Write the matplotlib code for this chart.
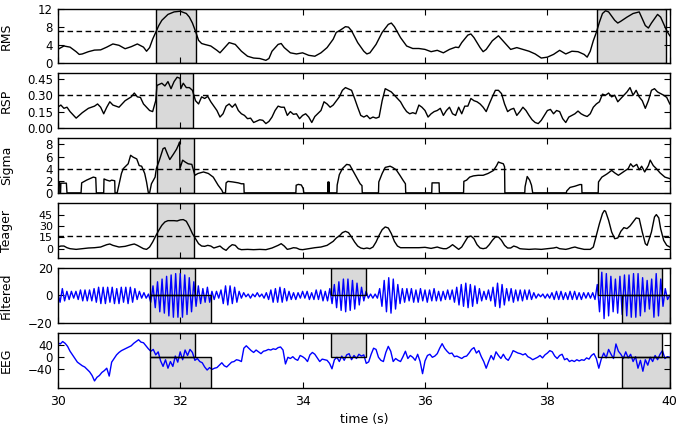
import numpy as np
import matplotlib
matplotlib.use('Agg')
import matplotlib.pyplot as plt
from matplotlib.patches import Rectangle

plt.rcParams['font.family'] = ['DejaVu Sans']
plt.rcParams['font.size'] = 9

# ---- RMS ----
rms_t = [30.0, 30.1, 30.2, 30.3, 30.35, 30.4, 30.5, 30.6, 30.7, 30.8,
         30.9, 31.0, 31.1, 31.2, 31.3, 31.4, 31.45, 31.5, 31.55, 31.6,
         31.65, 31.7, 31.8, 31.9, 32.0, 32.1, 32.15, 32.2, 32.25, 32.3,
         32.35, 32.4, 32.5, 32.6, 32.65, 32.7, 32.8, 32.9, 33.0, 33.1,
         33.2, 33.3, 33.4, 33.45, 33.5, 33.6, 33.65, 33.7, 33.8, 33.9,
         34.0, 34.1, 34.2, 34.3, 34.4, 34.5, 34.55,
         34.6, 34.7, 34.75, 34.8, 34.9, 35.0, 35.05, 35.1, 35.2, 35.3,
         35.4, 35.45, 35.5, 35.6, 35.7, 35.8, 35.9, 36.0, 36.1, 36.2,
         36.3, 36.4, 36.5, 36.55, 36.6, 36.7, 36.75, 36.8, 36.9, 36.95,
         37.0, 37.1, 37.2, 37.3, 37.4, 37.5, 37.6, 37.7, 37.8, 37.9,
         38.0, 38.1, 38.2, 38.3, 38.4, 38.5, 38.6, 38.65, 38.7, 38.75,
         38.8, 38.85, 38.9, 38.95, 39.0, 39.1, 39.15, 39.2, 39.3, 39.4,
         39.5, 39.6, 39.65, 39.7, 39.8, 39.85, 39.9, 39.95, 40.0]
rms_v = [3.0, 3.75, 3.5, 2.5, 1.9, 2.0, 2.5, 2.85, 2.9, 3.5,
         4.2, 3.9, 3.15, 3.6, 4.2, 3.5, 2.6, 3.4, 5.25, 6.75,
         8.25, 9.4, 10.7, 11.25, 11.4, 10.9, 10.1, 8.8, 7.0, 5.0,
         4.3, 4.1, 3.75, 2.8, 2.25, 3.0, 4.5, 4.1, 2.6, 1.5,
         1.1, 1.0, 0.6, 1.0, 2.6, 4.1, 4.3, 3.4, 2.25, 2.0,
         2.25, 1.7, 1.5, 2.25, 3.4, 5.25, 6.75,
         7.1, 8.0, 7.9, 7.1, 4.5, 2.6, 2.0, 2.25, 4.1, 6.75,
         8.5, 8.8, 8.0, 5.6, 3.75, 3.2, 3.2, 3.0, 2.5, 2.8,
         2.25, 3.0, 3.5, 3.4, 4.5, 6.15, 6.4, 5.6, 3.4, 2.5,
         3.0, 4.9, 6.0, 4.5, 3.0, 3.4, 3.0, 2.6, 2.0, 1.1,
         1.3, 1.9, 2.8, 2.0, 2.6, 2.5, 1.9, 1.3, 2.6, 4.9,
         6.75, 9.0, 10.9, 11.5, 11.25, 9.4, 8.8, 9.2, 10.1, 10.9,
         11.25, 8.25, 7.7, 8.8, 10.7, 10.1, 8.6, 7.1, 6.0]

# ---- RSP ----
rsp_t = [30.0, 30.05, 30.1, 30.15, 30.2, 30.3, 30.4, 30.5, 30.6, 30.65,
         30.7, 30.75, 30.8, 30.85, 30.9, 31.0, 31.05, 31.1, 31.2, 31.25,
         31.3, 31.35, 31.4, 31.5, 31.55, 31.6, 31.62, 31.7, 31.75, 31.8,
         31.85, 31.9, 31.95, 32.0, 32.01, 32.05, 32.1, 32.15, 32.2, 32.25,
         32.3, 32.35, 32.4, 32.45, 32.5, 32.6, 32.65, 32.7, 32.75, 32.8,
         32.85, 32.9, 32.95, 33.0, 33.05, 33.1, 33.15, 33.2, 33.3, 33.35,
         33.4, 33.45, 33.5, 33.55, 33.6, 33.65, 33.7, 33.75, 33.8, 33.85,
         33.9, 33.95, 34.0, 34.05, 34.1, 34.15, 34.2, 34.3, 34.35, 34.4,
         34.45, 34.5,
         34.6, 34.65, 34.7, 34.8, 34.85, 34.9, 34.95, 35.0, 35.05, 35.1,
         35.15, 35.2, 35.25, 35.3, 35.35, 35.4, 35.45, 35.5, 35.6, 35.65,
         35.7, 35.75, 35.8, 35.85, 35.9, 35.95, 36.0, 36.05, 36.1, 36.15,
         36.2, 36.25, 36.3, 36.35, 36.4, 36.45, 36.5, 36.55, 36.6, 36.65,
         36.7, 36.75, 36.8, 36.85, 36.9, 36.95, 37.0, 37.05, 37.1, 37.15,
         37.2, 37.25, 37.3, 37.35, 37.4, 37.45, 37.5, 37.55, 37.6, 37.65,
         37.7, 37.75, 37.8, 37.85, 37.9, 37.95, 38.0, 38.05, 38.1, 38.15,
         38.2, 38.25, 38.3, 38.35, 38.4, 38.45, 38.5, 38.55, 38.6, 38.65,
         38.7, 38.75, 38.8, 38.85, 38.9, 38.95, 39.0, 39.05, 39.1, 39.15,
         39.2, 39.25, 39.3, 39.35, 39.4, 39.45, 39.5, 39.55, 39.6, 39.65,
         39.7, 39.75, 39.8, 39.85, 39.9, 39.95, 40.0]
rsp_v = [0.19, 0.21, 0.18, 0.19, 0.15, 0.09, 0.14, 0.18, 0.20, 0.22,
         0.19, 0.13, 0.19, 0.24, 0.21, 0.19, 0.22, 0.25, 0.285, 0.32,
         0.285, 0.28, 0.22, 0.16, 0.15, 0.25, 0.39, 0.41, 0.385, 0.425,
         0.36, 0.425, 0.465, 0.455, 0.36, 0.41, 0.37, 0.37, 0.345, 0.25,
         0.22, 0.285, 0.27, 0.29, 0.24, 0.16, 0.10, 0.13, 0.20, 0.22,
         0.19, 0.22, 0.16, 0.13, 0.115, 0.085, 0.09, 0.05, 0.075, 0.07,
         0.04, 0.06, 0.10, 0.16, 0.20, 0.19, 0.19, 0.115, 0.15, 0.125,
         0.13, 0.085, 0.115, 0.13, 0.10, 0.05, 0.105, 0.16, 0.24, 0.22,
         0.19, 0.21,
         0.285, 0.345, 0.37, 0.345, 0.27, 0.19, 0.115, 0.10, 0.115, 0.085,
         0.10, 0.09, 0.10, 0.25, 0.36, 0.345, 0.33, 0.30, 0.24, 0.19,
         0.15, 0.13, 0.14, 0.13, 0.21, 0.19, 0.16, 0.10, 0.13, 0.15,
         0.16, 0.18, 0.115, 0.16, 0.19, 0.13, 0.115, 0.19, 0.13, 0.20,
         0.20, 0.27, 0.25, 0.24, 0.22, 0.19, 0.15, 0.22, 0.285, 0.345,
         0.345, 0.315, 0.22, 0.15, 0.17, 0.18, 0.115, 0.15, 0.19, 0.16,
         0.115, 0.075, 0.05, 0.04, 0.07, 0.115, 0.16, 0.17, 0.13, 0.16,
         0.15, 0.085, 0.05, 0.10, 0.115, 0.13, 0.155, 0.13, 0.115, 0.105,
         0.13, 0.19, 0.22, 0.24, 0.31, 0.30, 0.32, 0.285, 0.30, 0.24,
         0.27, 0.30, 0.33, 0.37, 0.30, 0.345, 0.285, 0.25, 0.18, 0.25,
         0.345, 0.36, 0.33, 0.315, 0.30, 0.28, 0.22]

# ---- Sigma (zero where undefined) ----
sig_t = [30.0, 30.03, 30.035, 30.045, 30.05, 30.14, 30.15,
         30.38, 30.39, 30.47, 30.58, 30.62, 30.63,
         30.75, 30.755, 30.8, 30.85, 30.88, 30.93, 30.935,
         30.97, 31.04, 31.07, 31.15, 31.19, 31.23, 31.29, 31.33, 31.37, 31.42,
         31.45, 31.48,
         31.5, 31.53, 31.59, 31.61, 31.66, 31.72, 31.75, 31.80, 31.83, 31.89,
         31.94, 31.98, 31.99, 31.995, 32.04, 32.08, 32.13, 32.19, 32.21, 32.24,
         32.29, 32.38, 32.46, 32.54, 32.62, 32.68, 32.70,
         32.74, 32.75, 32.78, 32.86, 32.95, 33.0, 33.04, 33.045,
         33.89, 33.895, 33.93, 33.98, 34.01, 34.02,
         34.41, 34.415, 34.42, 34.425, 34.43, 34.435,
         34.56, 34.565, 34.6, 34.65, 34.72, 34.77, 34.82, 34.88, 34.94, 34.97,
         34.975,
         35.24, 35.245, 35.3, 35.35, 35.43, 35.47, 35.53, 35.59, 35.64, 35.68,
         35.685,
         36.11, 36.115, 36.23, 36.235,
         36.63, 36.635, 36.68, 36.73, 36.79, 36.87, 36.95, 37.03, 37.12, 37.17,
         37.2, 37.22, 37.28, 37.30, 37.305,
         37.63, 37.635, 37.67, 37.71, 37.74, 37.76,
         38.31, 38.315, 38.37, 38.45, 38.53, 38.56, 38.565,
         38.83, 38.835, 38.89, 38.97, 39.05, 39.1, 39.16, 39.24, 39.32, 39.36,
         39.40, 39.46, 39.5, 39.54, 39.59, 39.65, 39.68, 39.73, 39.78, 39.84,
         39.92, 40.0]
sig_v = [1.7, 1.7, 0, 0, 1.6, 1.6, 0,
         0, 1.65, 2.1, 2.6, 2.5, 0,
         0, 2.3, 2.1, 1.95, 2.1, 2.0, 0,
         0, 3.2, 4.0, 4.8, 6.2, 5.9, 5.6, 4.5, 4.4, 3.2,
         1.8, 0,
         0, 1.5, 2.6, 4.0, 5.4, 7.3, 7.45, 6.2, 5.5, 6.4,
         7.2, 8.1, 8.4, 4.0, 5.4, 5.1, 4.8, 4.7, 4.0, 2.9,
         3.2, 3.45, 3.2, 2.6, 1.26, 0.45, 0,
         0, 1.65, 1.9, 1.8, 1.65, 1.5, 1.5, 0,
         0, 1.26, 1.4, 1.3, 0.7, 0,
         0, 1.8, 0, 0, 1.8, 0,
         0, 1.3, 3.0, 4.0, 4.7, 4.6, 3.7, 2.6, 1.5, 1.2,
         0,
         0, 1.8, 3.2, 4.2, 4.4, 4.2, 3.8, 2.9, 2.1, 1.5,
         0,
         0, 1.65, 1.65, 0,
         0, 1.9, 2.1, 2.6, 2.8, 2.9, 2.9, 3.2, 3.7, 4.5,
         5.1, 5.0, 4.8, 4.3, 0,
         0, 1.0, 2.7, 2.1, 1.26, 0,
         0, 0.3, 0.9, 1.1, 1.37, 1.37, 0,
         0, 1.8, 2.6, 3.1, 3.7, 3.3, 2.9, 3.45, 4.0, 4.8,
         4.3, 4.7, 3.8, 4.4, 3.45, 4.5, 5.4, 4.5, 4.0, 3.3,
         2.6, 2.35]

# ---- Teager ----
teo_t = [30.0, 30.05, 30.1, 30.15, 30.2, 30.3, 30.4, 30.5, 30.6, 30.7,
         30.8, 30.85, 30.9, 31.0, 31.1, 31.2, 31.25, 31.3, 31.4, 31.45,
         31.5, 31.55, 31.6, 31.65, 31.7, 31.75, 31.8, 31.9, 31.95, 32.0,
         32.05, 32.1, 32.15, 32.2, 32.25, 32.3, 32.35, 32.4, 32.45, 32.5,
         32.55, 32.6, 32.65, 32.7, 32.75, 32.8, 32.85, 32.9, 32.95, 33.0,
         33.1, 33.2, 33.3, 33.4, 33.5, 33.6, 33.65, 33.7, 33.75, 33.8,
         33.85, 33.9, 33.95, 34.0, 34.1, 34.2, 34.3, 34.4, 34.5, 34.55,
         34.61, 34.65, 34.7, 34.75, 34.8, 34.85, 34.9, 34.95, 35.0, 35.05,
         35.1, 35.15, 35.2, 35.25, 35.3, 35.35, 35.4, 35.45, 35.5, 35.55,
         35.6, 35.7, 35.8, 35.9, 36.0, 36.1, 36.2, 36.25, 36.3, 36.35,
         36.4, 36.45, 36.5, 36.55, 36.6, 36.65, 36.7, 36.75, 36.8, 36.85,
         36.9, 36.95, 37.0, 37.05, 37.1, 37.15, 37.2, 37.25, 37.3, 37.35,
         37.4, 37.45, 37.5, 37.55, 37.6, 37.7, 37.8, 37.9, 38.0, 38.1,
         38.15, 38.2, 38.3, 38.35, 38.4, 38.45, 38.5, 38.6, 38.7, 38.75,
         38.8, 38.85, 38.9, 38.93, 38.95, 39.0, 39.05, 39.1, 39.15, 39.2,
         39.25, 39.3, 39.35, 39.4, 39.45, 39.5, 39.55, 39.6, 39.63, 39.7,
         39.75, 39.78, 39.82, 39.85, 39.9, 39.95, 40.0]
teo_v = [2.2, 3.5, 3.5, 1.3, 0, -0.9, 0, 0.9, 1.3, 2.2,
         5.3, 6.2, 4.4, 2.2, 3.1, 5.3, 6.2, 4.4, 0, -0.9,
         2.2, 8.8, 16.8, 24.3, 30.9, 35.3, 37, 37, 36.6, 38,
         38.4, 36.2, 28.7, 19.9, 13.2, 6.6, 3.5, 3.1, 4.4, 3.5,
         0.9, 2.2, 3.5, 0, -2.2, 2.2, 5.3, 4.4, 0, -1.3,
         -0.9, -1.3, -0.9, -1.3, 0.9, 4.4, 6.6, 3.5, -0.9, 0,
         1.3, 0.9, -0.9, -1.3, 0, 1.3, 2.2, 4.4, 9.7, 14.1,
         17.6, 21.2, 22.9, 21.2, 15.4, 8.8, 3.5, 0.9, 0, 0.9,
         0, 2.2, 8.8, 17.6, 25.1, 28.7, 27.3, 19.9, 9.7, 3.5,
         1.3, 1.3, 1.3, 1.3, 1.8, 0.4, 2.2, 0.9, 0, 0,
         2.2, 5.3, 2.2, -0.9, 2.2, 8.8, 15.4, 16.8, 13.2, 5.3,
         0.9, 0, 0.9, 5.3, 11, 15.4, 15.4, 11, 4.4, 0.9,
         0.9, 3.5, 2.2, 0, -0.4, -0.9, -0.4, -0.9, 0, 0.9,
         1.8, 0, -0.9, 0, 1.3, 2.2, 0.9, -0.9, -0.9, 2.2,
         17.6, 33, 46.3, 50.3, 49.4, 37.5, 22, 13.2, 14.1, 22.9,
         27.8, 26.5, 30, 35.3, 40.6, 39.7, 22, 6.6, 4.4, 22,
         41.9, 45, 40.6, 26.5, 11, 4.4, 2.2]

# ---- Filtered signal: successive extrema, 27 per second ----
filtered = [
    2, -5, 5, -4, 3, -3, 3, -2, 3, -3, 4, -4, 4, -4, 4, -4, 5, -5, 6, -6, 6, -6, 6, -5, 6, -6, 5,
    -6, 6, -5, 6, -6, 6, -5, 5, -3, 3, -2, 2, -2, 1, -5, 7, -9, 10, -12, 12, -13, 14, -15, 15, -16, 16, -16,
    16, -16, 15, -14, 13, -12, 10, -8, 7, -6, 5, -5, 6, -5, 3, -3, 3, -2, 4, -6, 7, -7, 7, -6, 6, -5, 3,
    -2, 2, -1, 1, -2, 1, -1, 2, -1, 1, -2, 2, -3, 4, -5, 5, -5, 6, -5, 5, -4, 3, -3, 2, -3, 2, -2,
    3, -2, 3, -3, 2, -3, 4, -3, 4, -4, 3, -4, 5, -6, 8, -9, 10, -11, 12, -12, 12, -11, 11, -10, 9, -7, 6,
    -4, 3, -2, 1, -2, 1, -2, 5, -8, 11, -12, 13, -13, 12, -10, 8, -6, 5, -5, 5, -4, 5, -5, 4, -5, 5, -4,
    4, -5, 4, -4, 5, -4, 3, -4, 3, -3, 4, -3, 4, -5, 6, -7, 8, -8, 9, -9, 8, -8, 7, -6, 5, -4, 3,
    -3, 4, -4, 6, -8, 9, -9, 8, -7, 5, -4, 5, -5, 4, -4, 4, -4, 4, -3, 4, -3, 2, -2, 1, -1, 1, -2,
    1, -2, 2, -3, 3, -3, 3, -3, 2, -3, 3, -3, 3, -3, 2, -3, 2, -2, 2, -2, 2, -3, 8, -12, 17, -17, 16,
    -15, 14, -12, 12, -13, 14, -14, 15, -15, 15, -16, 16, -16, 16, -15, 13, -12, 11, -10, 12, -16, 16, -15, 12, -8, 5, -3,
    0]

# ---- raw EEG, 25 samples per second ----
eeg = [
    48, 44, 52, 46, 36, 20, 8, -4, -16, -22, -28, -32, -40, -48, -60, -78, -66, -60, -50, -44, -36, -62, -16, -4, 8,
    16, 22, 26, 30, 34, 38, 46, 52, 58, 50, 48, 38, 28, 20, 26, 8, 18, -12, -30, -8, -36, -14, -30, 4, -16,
    18, -8, 24, 6, 26, 16, -10, -4, -14, -18, -32, -42, -34, -40, -36, -34, -26, -18, -28, -32, -24, -16, -14, -8, -10,
    -14, 30, 38, 30, 22, 16, 24, 18, 12, 20, 22, 26, 24, 28, 26, 32, 34, 24, -22, 0, -4, 2, -6, -10, 6,
    2, -4, -14, 8, 16, 10, -2, -14, -6, -8, -10, -20, -38, -8, 0, -14, 4, -10, 8, 12, -8, 6, -4, 10, 4,
    8, -20, -15, 10, 30, 26, 0, -10, -14, 16, 36, 20, -14, -4, -10, -14, 2, 20, -4, 6, 0, -10, 10, -14, -54,
    -12, 6, 10, 0, 4, 12, 30, 45, 30, 20, 12, 14, 2, 4, 0, -4, 2, 4, 14, 26, 32, 14, 22, 2, -14,
    -36, -14, 6, -8, 18, 6, -4, 10, -4, -10, 4, 22, 18, 14, 12, 8, 12, 2, -2, -8, -4, 0, 6, -2, 8,
    14, 22, 18, 4, -4, 6, 10, -8, -4, -14, -10, -14, -8, -12, -8, -10, -2, -6, 6, 12, -4, -36, -6, 14, -2,
    26, 10, -4, 44, 20, 10, -4, 18, -2, 10, -14, 2, -36, -10, -46, -8, -26, 0, -14, 6, -8, 10, 22, -4, 2,
    0]

# detections (start, end) in seconds
rms_det = [(31.61, 32.25), (38.81, 39.93)]
rsp_det = [(31.61, 32.21)]
sig_det = [(31.62, 32.23)]
teo_det = [(31.62, 32.23)]
expert_upper = [(31.5, 32.24), (34.46, 35.03), (38.83, 39.87)]
expert_lower = [(31.5, 32.51), (39.22, 40.0)]

thresholds = {'RMS': 7.0, 'RSP': 0.30, 'Sigma': 4.0, 'Teager': 17.0}

filt_t = np.linspace(30, 40, len(filtered))
eeg_t = np.linspace(30, 40, len(eeg))

gray = '#d9d9d9'

fig, axes = plt.subplots(6, 1, sharex=True, figsize=(6.8, 4.25), dpi=100)
fig.subplots_adjust(left=0.085, right=0.985, top=0.98, bottom=0.088, hspace=0.19)


def shade(ax, spans):
    for a, b in spans:
        ax.axvspan(a, b, facecolor=gray, edgecolor='none', zorder=1)
        ax.axvspan(a, b, facecolor='none', edgecolor='k', lw=1, zorder=3)


def boxes(ax, spans, lower):
    lo, hi = ax.get_ylim()
    for a, b in spans:
        y0, h = (lo, -lo) if lower else (0, hi)
        ax.add_patch(Rectangle((a, y0), b - a, h, facecolor=gray, edgecolor='none', zorder=1))
        ax.add_patch(Rectangle((a, y0), b - a, h, facecolor='none', edgecolor='k', lw=1, zorder=3))


panels = [
    ('RMS', rms_t, rms_v, rms_det, (0, 12), [0, 4, 8, 12], '%g'),
    ('RSP', rsp_t, rsp_v, rsp_det, (0, 0.5), [0, 0.15, 0.30, 0.45], '%.2f'),
    ('Sigma', sig_t, sig_v, sig_det, (0, 9), [0, 2, 4, 6, 8], '%g'),
    ('Teager', teo_t, teo_v, teo_det, (-12, 60), [0, 15, 30, 45], '%g'),
]
for ax, (name, t, v, det, ylim, yt, fmt) in zip(axes[:4], panels):
    ax.set_ylim(ylim)
    shade(ax, det)
    ax.plot(t, v, color='k', lw=1, zorder=2)
    ax.axhline(thresholds[name], color='k', ls='--', dashes=(4, 2.5), lw=1, zorder=2)
    ax.set_yticks(yt)
    ax.set_yticklabels([fmt % y for y in yt])
    ax.set_ylabel(name)

# filtered
ax = axes[4]
ax.set_ylim(-20, 20)
boxes(ax, expert_upper, False)
boxes(ax, expert_lower, True)
ax.plot(filt_t, filtered, color='#0000ff', lw=1, zorder=2)
ax.set_yticks([-20, 0, 20])
ax.set_ylabel('Filtered')

# raw EEG
ax = axes[5]
ax.set_ylim(-100, 80)
boxes(ax, expert_upper, False)
boxes(ax, expert_lower, True)
ax.plot(eeg_t, eeg, color='#0000ff', lw=1, zorder=2)
ax.set_yticks([-40, 0, 40])
ax.set_ylabel('EEG')

for ax in axes:
    ax.set_xlim(30, 40)
    ax.set_xticks(np.arange(30, 41, 2))
    ax.tick_params(direction='in', top=True, right=True, length=4, width=0.8, pad=3.5)
    ax.tick_params(axis='x', labelsize=9)
    ax.tick_params(axis='y', labelsize=8.5)
    ax.yaxis.set_label_coords(-0.073, 0.5)
    for s in ax.spines.values():
        s.set_linewidth(1)

# Teager ticks are packed closely
axes[3].tick_params(axis='y', labelsize=8)

axes[-1].tick_params(axis='x', pad=5)
axes[-1].set_xlabel('time (s)')

plt.savefig('out.png', dpi=100)
